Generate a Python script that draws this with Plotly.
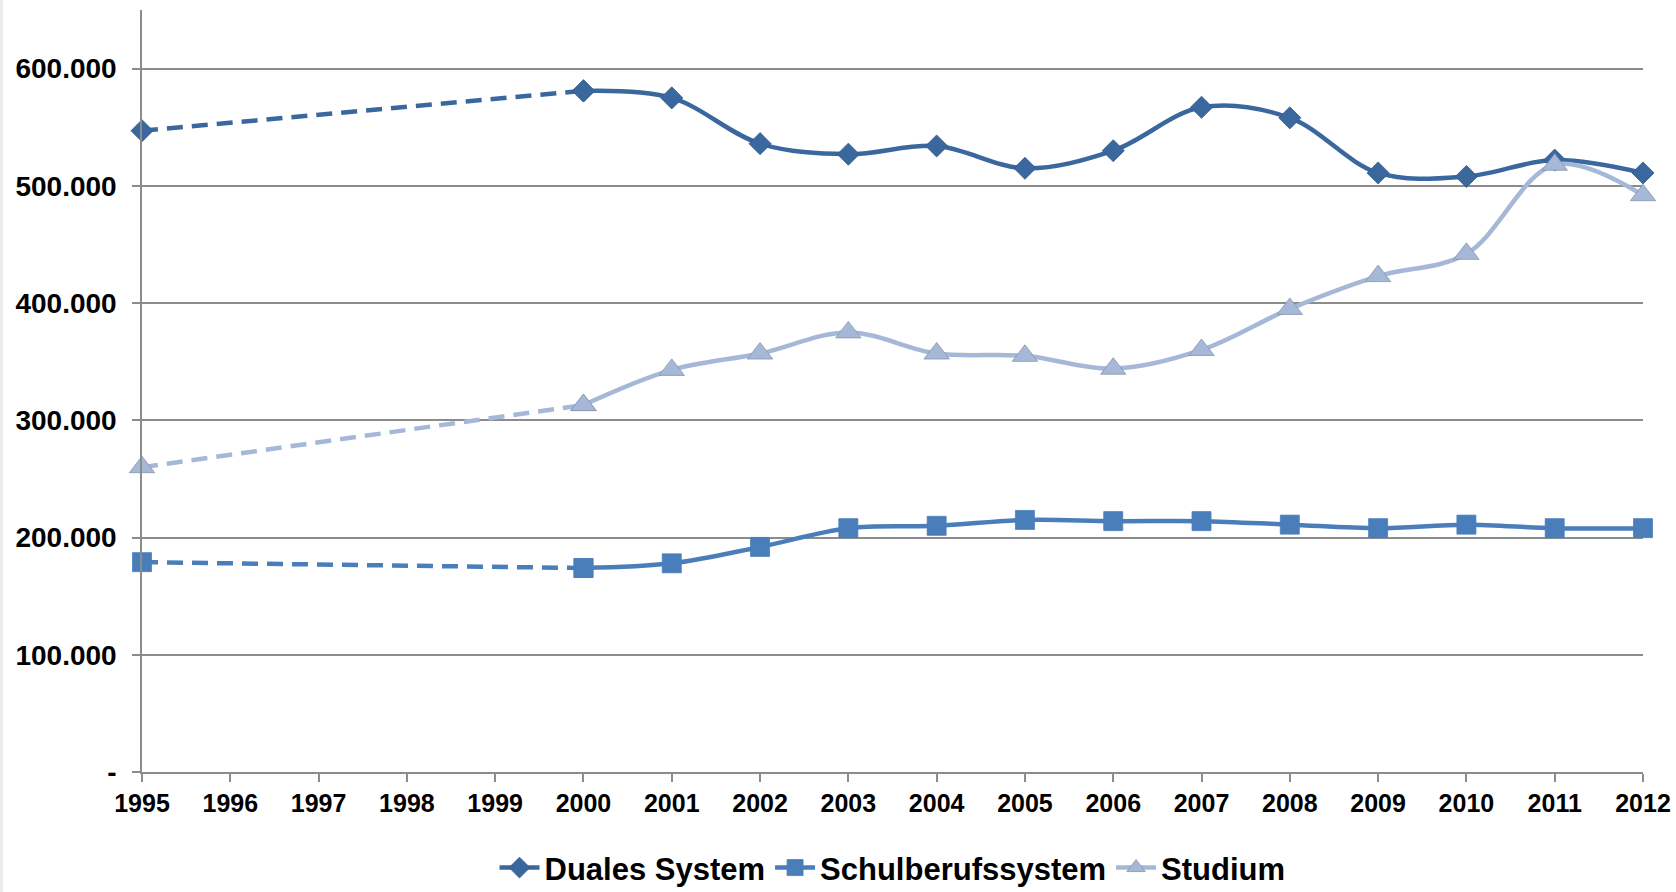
import plotly.graph_objects as go

# Jahre und Werte (Anfänger in den drei Sektoren)
years_gap = [1995, 2000]
years = [2000, 2001, 2002, 2003, 2004, 2005, 2006, 2007, 2008, 2009, 2010, 2011, 2012]

duales_1995 = 547000
duales = [581000, 575000, 536000, 527000, 534000, 515000, 530000, 567000, 558000,
          511000, 508000, 522000, 511000]

schul_1995 = 179000
schul = [174000, 178000, 192000, 208000, 210000, 215000, 214000, 214000, 211000,
         208000, 211000, 208000, 208000]

studium_1995 = 260000
studium = [313000, 343000, 357000, 375000, 357000, 355000, 344000, 360000, 395000,
           423000, 442000, 518000, 492000]

y_ticks = [0, 100000, 200000, 300000, 400000, 500000, 600000]
y_ticktext = ["-", "100.000", "200.000", "300.000", "400.000", "500.000", "600.000"]
x_ticks = list(range(1995, 2013))

series = [
    ("Duales System", duales_1995, duales, "#3b679f", "diamond", 17, "#335b8c"),
    ("Schulberufssystem", schul_1995, schul, "#4a7ebb", "square", 19, "#4a7ebb"),
    ("Studium", studium_1995, studium, "#a5b8d8", "triangle-up", 22, "#8894a8"),
]

fig = go.Figure()
for name, first, vals, color, symbol, msize, mline in series:
    marker = dict(symbol=symbol, size=msize, color=color,
                  line=dict(color=mline, width=0.8))
    # gestrichelte Verbindung über die Datenlücke 1995–2000
    fig.add_trace(go.Scatter(
        x=years_gap, y=[first, vals[0]], mode="lines+markers",
        line=dict(color=color, width=4.5, dash="16px,9px"),
        marker=marker, legendgroup=name, showlegend=False,
        cliponaxis=False, hoverinfo="skip"))
    # geglättete Linie ab 2000
    fig.add_trace(go.Scatter(
        x=years, y=vals, mode="lines+markers", name=name,
        line=dict(color=color, width=4.5, shape="spline", smoothing=1),
        marker=marker, legendgroup=name, cliponaxis=False))

plot_w = 1643 - 142
fig.add_shape(type="rect", xref="paper", yref="paper",
              x0=-142 / plot_w, x1=-139 / plot_w, y0=-2, y1=2,
              fillcolor="#ececec", line=dict(width=0), layer="below")

fig.update_layout(
    width=1676, height=892,
    margin=dict(l=142, r=33, t=10, b=120, autoexpand=False),
    paper_bgcolor="white", plot_bgcolor="white",
    xaxis=dict(
        range=[1995, 2012], tickmode="array", tickvals=x_ticks,
        ticks="outside", ticklen=8, tickcolor="#8c8c8c", tickwidth=1.5,
        showline=True, linecolor="#8c8c8c", linewidth=1.5,
        showgrid=False, zeroline=False, automargin=False,
        tickfont=dict(family="Liberation Sans, Arial, sans-serif", size=25,
                      color="#000000", weight="bold"),
    ),
    yaxis=dict(
        range=[0, 650000], tickmode="array", tickvals=y_ticks, ticktext=y_ticktext,
        ticks="outside", ticklen=8, tickcolor="#8c8c8c", tickwidth=1.5,
        showline=True, linecolor="#8c8c8c", linewidth=1.5,
        showgrid=True, gridcolor="#8c8c8c", gridwidth=1.5,
        zeroline=False, automargin=False, ticklabelstandoff=10,
        tickfont=dict(family="Liberation Sans, Arial, sans-serif", size=28,
                      color="#000000", weight="bold"),
    ),
    legend=dict(
        orientation="h", x=0.5, xanchor="center",
        yref="container", y=0.027, yanchor="middle",
        font=dict(family="Liberation Sans, Arial, sans-serif", size=31,
                  color="#000000", weight="bold"),
        bgcolor="rgba(0,0,0,0)", tracegroupgap=0, itemwidth=40,
    ),
)

fig.write_html("out.html")
